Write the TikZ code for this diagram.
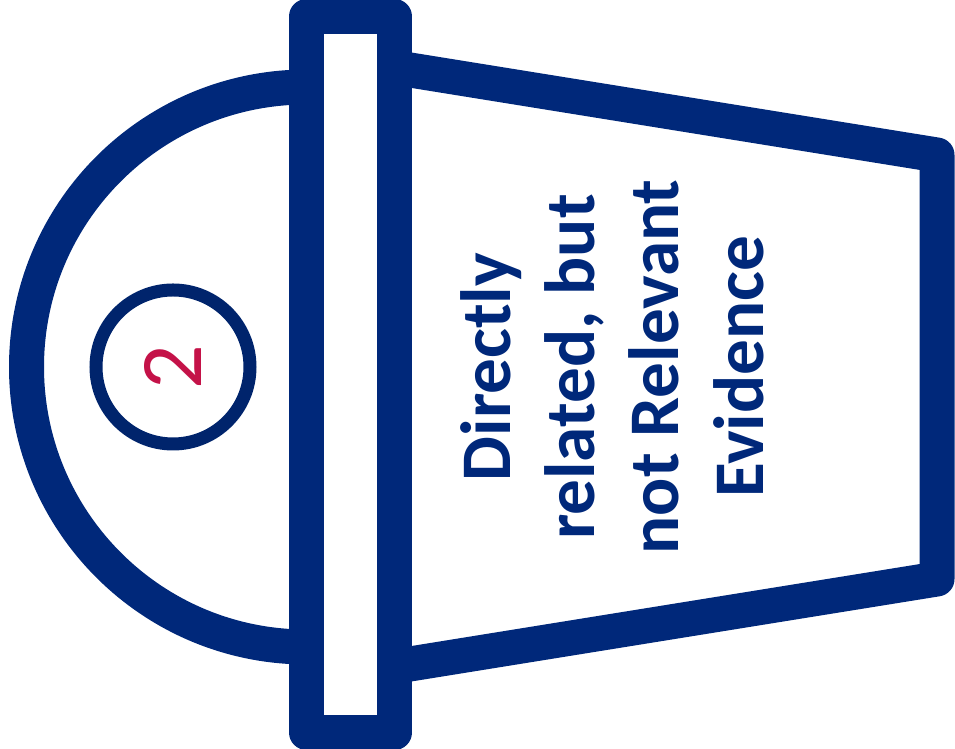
\documentclass[tikz,border=0pt]{standalone}
\usepackage{fontspec}
\setmainfont{Carlito}
\usepackage{tikz}
\definecolor{BktLine}{RGB}{0,40,122}
\definecolor{NumRing}{RGB}{0,36,108}
\definecolor{NumText}{RGB}{196,18,72}
\tikzset{
  bkt_edge/.style={
    draw=BktLine, line width=0.7cm, line join=round},
  num_ring/.style={
    draw=NumRing, line width=0.26cm},
  num_lbl/.style={
    font=\fontsize{50}{50}\selectfont, text=NumText, rotate=90, inner sep=0pt},
  bkt_lbl/.style={
    font=\fontsize{40.5}{48}\selectfont\bfseries, text=BktLine,
    rotate=90, align=center, inner sep=0pt},
}
\begin{document}
\begin{tikzpicture}[x=0.2mm,y=0.2mm]

\useasboundingbox (0,0) rectangle (955,749);

%% lid centre line and mid height
\def\Lx{306.5} \def\My{382}

%% body of the bucket
\draw[bkt_edge] (394.5,\My+299.5) -- (937,\My+212) -- (937,\My-212) -- (394.5,\My-299.5);

%% round bottom
\draw[bkt_edge] (\Lx,\My+280) arc[start angle=90,end angle=270,radius=280];

%% lid
\draw[bkt_edge,fill=white] (\Lx,16.5) rectangle (394.5,732.5);

%% number
\draw[num_ring] (173,\My) circle[radius=77];
\node[num_lbl] (num) at (173,\My) {2};

%% label
\node[bkt_lbl] (lbl) at (612,\My) {Directly\\related, but\\not Relevant\\Evidence};

\end{tikzpicture}
\end{document}
